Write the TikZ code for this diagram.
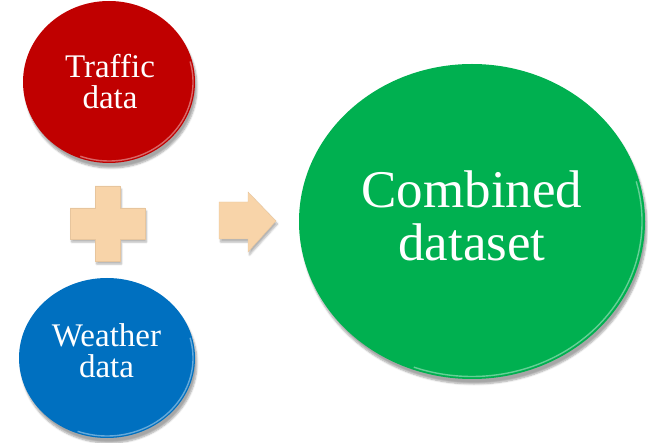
\documentclass[tikz,border=0pt]{standalone}
\usepackage{fontspec}
\setmainfont{Liberation Serif}
\usetikzlibrary{shapes.geometric,shadows.blur}
\definecolor{cred}{HTML}{C00000}
\definecolor{cblue}{HTML}{0070C0}
\definecolor{cgreen}{HTML}{00B050}
\definecolor{ctan}{HTML}{F8D4A9}
\tikzset{
  bub/.style={ellipse, inner sep=0pt, draw=none,
    blur shadow={shadow xshift=2pt, shadow yshift=-5pt, shadow blur steps=6, shadow opacity=35}},
  smalltxt/.style={text=white, align=center, inner sep=0pt,
    font=\fontsize{33}{31}\selectfont},
  bigtxt/.style={text=white, align=center, inner sep=0pt,
    font=\fontsize{53}{53}\selectfont},
  rim/.style={line width=1.4pt, draw=white, opacity=0.4},
  tanshape/.style={fill=ctan, draw=ctan!93!black, line width=0.4pt,
    blur shadow={shadow xshift=1.5pt, shadow yshift=-3pt, shadow blur steps=5, shadow opacity=30}}
}
\begin{document}
\begin{tikzpicture}[x=1pt,y=-1pt]
\useasboundingbox (0,0) rectangle (648,443);
% circles
\node[bub, fill=cred, minimum width=172pt, minimum height=162pt] (traffic) at (109,82) {};
\node[bub, fill=cblue, minimum width=176pt, minimum height=160pt] (weather) at (107,358) {};
\node[bub, fill=cgreen, minimum width=346pt, minimum height=315pt] (combined) at (472,221.5) {};
% rims
\draw[rim] (109,82) ++({84*cos(-15)},{79*sin(-15)}) arc[start angle=-15, end angle=110, x radius=84, y radius=79];
\draw[rim] (107,358) ++({86*cos(-15)},{78*sin(-15)}) arc[start angle=-15, end angle=110, x radius=86, y radius=78];
\draw[rim] (472,221.5) ++({170*cos(-15)},{155*sin(-15)}) arc[start angle=-15, end angle=110, x radius=170, y radius=155];
% texts
\node[smalltxt] (trafficT) at (110,81.5) {Traffic\\data};
\node[smalltxt] (weatherT) at (106.5,351) {Weather\\data};
\node[bigtxt] (combinedT) at (472,216) {Combined\\dataset};
% plus
\path[tanshape] (95,186) -- (120,186) -- (120,208) -- (145,208) -- (145,239) -- (120,239)
  -- (120,261) -- (95,261) -- (95,239) -- (70,239) -- (70,208) -- (95,208) -- cycle;
% arrow
\path[tanshape] (219,202) -- (248,202) -- (248,192) -- (276,221) -- (248,252) -- (248,239)
  -- (219,239) -- cycle;
\end{tikzpicture}
\end{document}
